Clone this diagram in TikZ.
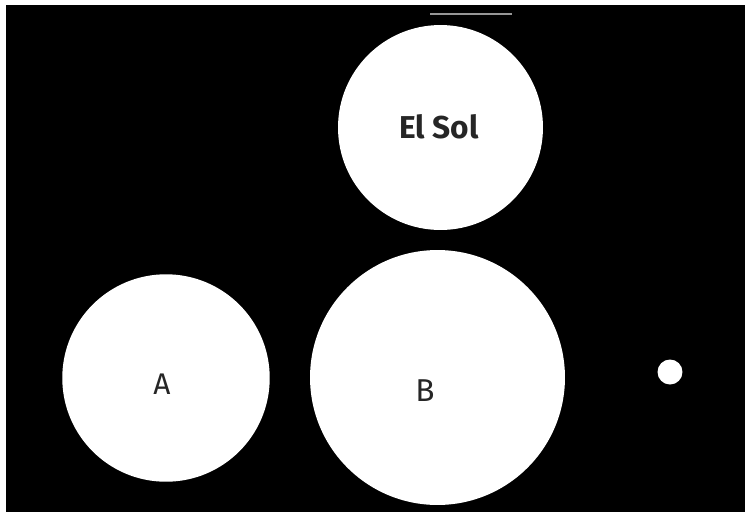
\documentclass[tikz,border=0pt]{standalone}
\usepackage{fontspec}
\setmainfont{Fira Sans}
\usepackage{tikz}
\usetikzlibrary{calc}
\definecolor{myGray}{RGB}{150,150,150}
\tikzset{
	body/.style={
		circle,
		fill=white,
		draw=none,
		inner sep=0pt
	},
	blbl/.style={text=black!85, inner sep=0pt}
}

\begin{document}
\begin{tikzpicture}[x=0.02cm, y=-0.02cm]
		\useasboundingbox (0,0) rectangle (745,515);
		\fill[white] (0,0) rectangle (745,515);
		\fill[black] (6,5) rectangle (745,512);
		\draw[myGray, line width=0.04cm] (430,14) -- (512,14);
		\node[body, minimum size=4.1cm] (sol) at (440.5,127.5) {};
		\node[body, minimum size=4.15cm] (planetA) at (166,378) {};
		\node[body, minimum size=5.1cm] (planetB) at (437.5,377.5) {};
		\node[body, minimum size=0.5cm] (moon) at (670,372) {};
		\node[blbl, font=\fontsize{18}{20}\selectfont\bfseries] (solLbl) at (439,127) {El Sol};
		\node[blbl, font=\fontsize{17}{19}\selectfont] (aLbl) at (162,384) {A};
		\node[blbl, font=\fontsize{18}{20}\selectfont] (bLbl) at (425,391) {B};
	\end{tikzpicture}
\end{document}
